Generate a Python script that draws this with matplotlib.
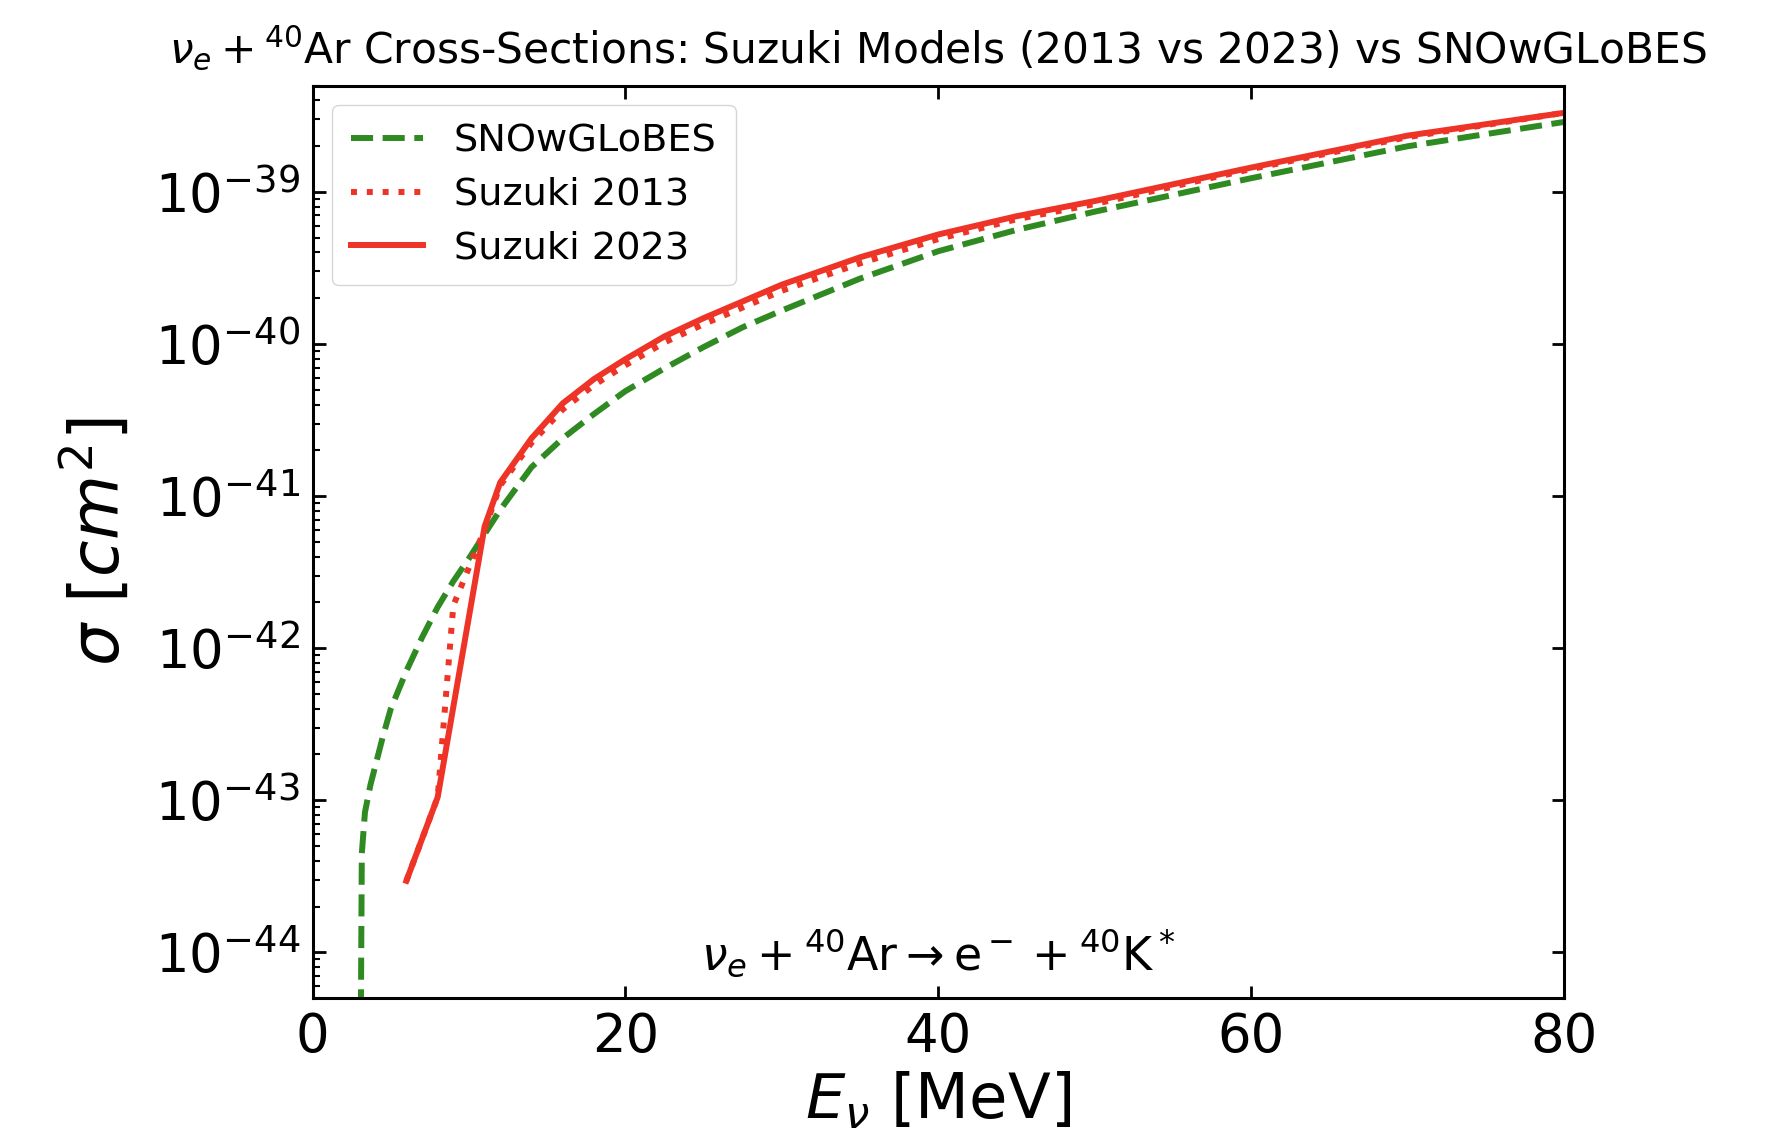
import numpy as np
import matplotlib
matplotlib.use("Agg")
import matplotlib.pyplot as plt

# ---- data (log10 of cross-section in cm^2) ----
E_snow = [3.0, 3.15, 3.35, 3.7, 4.5, 5.0, 6.0, 7.0, 8.0, 9.0, 10.0, 11.0, 12.0, 13.0,
          14.0, 16.0, 18.0, 20.0, 22.5, 25.0, 27.5, 30.0, 35.0, 40.0, 45.0, 50.0,
          60.0, 70.0, 80.0]
logsig_snow = [-46.0, -43.35, -43.08, -42.90, -42.58, -42.40, -42.15, -41.93, -41.73,
               -41.56, -41.41, -41.25, -41.09, -40.95, -40.81, -40.62, -40.46, -40.31,
               -40.16, -40.02, -39.89, -39.78, -39.57, -39.39, -39.25, -39.13,
               -38.91, -38.70, -38.54]

E_suz13 = [6.0, 8.0, 9.0, 10.0, 11.0, 12.0, 14.0, 16.0, 18.0, 20.0, 22.5, 25.0, 27.5,
           30.0, 35.0, 40.0, 45.0, 50.0, 60.0, 70.0, 80.0]
logsig_suz13 = [-43.53, -42.98, -41.72, -41.47, -41.22, -40.93, -40.65, -40.43, -40.27,
                -40.14, -39.99, -39.87, -39.76, -39.65, -39.47, -39.31, -39.18, -39.08,
                -38.85, -38.64, -38.48]

E_suz23 = [6.0, 8.0, 11.0, 12.0, 14.0, 16.0, 18.0, 20.0, 22.5, 25.0, 27.5, 30.0, 35.0,
           40.0, 45.0, 50.0, 60.0, 70.0, 80.0]
logsig_suz23 = [-43.53, -42.98, -41.20, -40.91, -40.62, -40.39, -40.23, -40.10, -39.95,
                -39.83, -39.72, -39.61, -39.43, -39.28, -39.16, -39.06, -38.84, -38.63,
                -38.48]

labels = ["SNOwGLoBES", "Suzuki 2013", "Suzuki 2023"]

GREEN = "#2f8a22"
RED = "#ee3427"

fig = plt.figure(figsize=(17.89, 11.37), dpi=100)
ax = fig.add_axes([0.1747, 0.1222, 0.6995, 0.8025])

ax.plot(E_snow, 10.0 ** np.array(logsig_snow), ls="--", color=GREEN, lw=4.3, label=labels[0])
ax.plot(E_suz13, 10.0 ** np.array(logsig_suz13), ls=":", color=RED, lw=4.3, label=labels[1])
ax.plot(E_suz23, 10.0 ** np.array(logsig_suz23), ls="-", color=RED, lw=4.3, label=labels[2])

ax.set_yscale("log")
ax.set_xlim(0, 80)
ax.set_ylim(5e-45, 5e-39)
ax.set_xticks([0, 20, 40, 60, 80])

for s in ax.spines.values():
    s.set_linewidth(2.2)

ax.tick_params(which="major", direction="in", top=True, right=True, length=9, width=2,
               labelsize=38, pad=9)
ax.tick_params(which="minor", direction="in", left=True, right=False, top=False,
               bottom=False, length=5, width=1.5)

ax.set_xlabel(r"$E_{\nu}$ [MeV]", fontsize=45, labelpad=6)
ax.set_ylabel(r"$\sigma\ [cm^2]$", fontsize=48, labelpad=16)
ax.set_title(r"$\nu_e + ^{40}$Ar Cross-Sections: Suzuki Models (2013 vs 2023) vs SNOwGLoBES",
             fontsize=30.5, pad=16)

ax.text(0.5, 0.02, r"$\nu_e + ^{40}\mathrm{Ar} \rightarrow \mathrm{e}^- + ^{40}\mathrm{K}^*$",
        transform=ax.transAxes, ha="center", va="bottom", fontsize=33)

ax.legend(loc="upper left", fontsize=27.5, handlelength=1.9, borderpad=0.5,
          labelspacing=0.45, bbox_to_anchor=(0.0, 1.0))

fig.savefig("out.png", dpi=100)
